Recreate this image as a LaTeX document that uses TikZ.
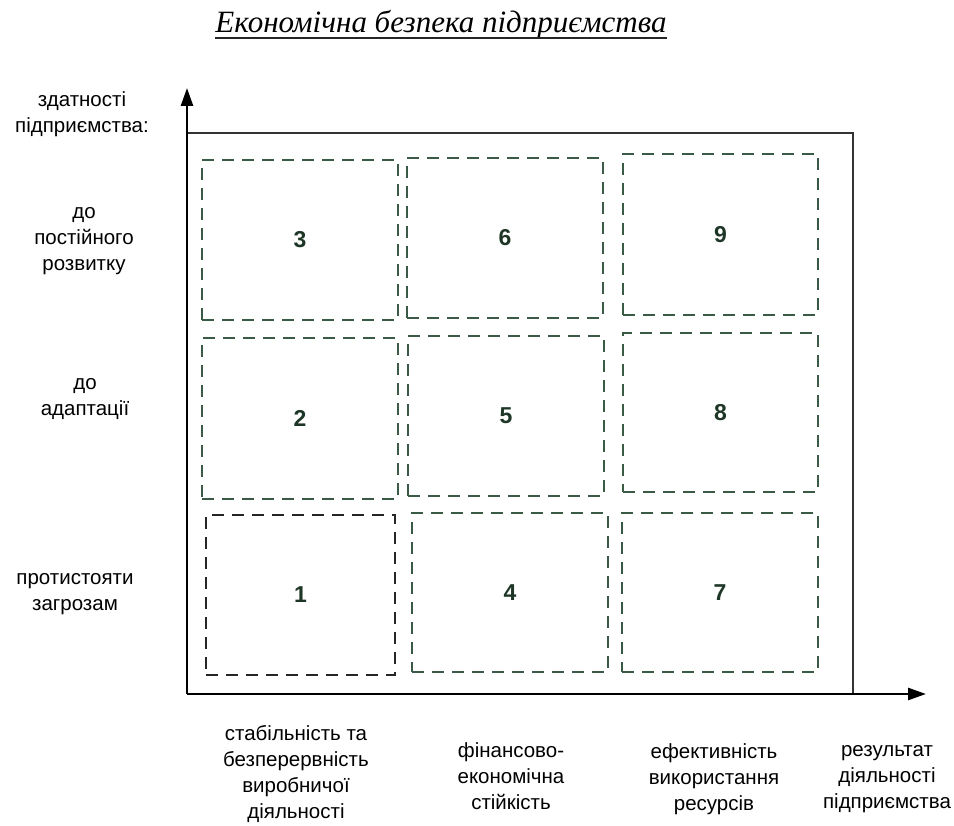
\documentclass[tikz,border=0pt]{standalone}
\usepackage{fontspec}
\setmainfont{Liberation Serif}
\newfontfamily\lsans{Liberation Sans}
\usetikzlibrary{arrows.meta}
\definecolor{dgreen}{HTML}{3A5A45}
\definecolor{numcol}{HTML}{1E3626}
\begin{document}
\begin{tikzpicture}[x=1pt,y=-1pt,
  cell/.style={draw=dgreen,line width=2.1pt,dash pattern=on 12pt off 8pt,inner sep=0pt,outer sep=0pt,
    font=\lsans\bfseries\fontsize{23}{25}\selectfont,text=numcol},
  axis/.style={line width=2.6pt,-{Triangle[length=18pt,width=12pt]}},
  frameline/.style={line width=1.8pt,draw=black!80},
  lbl/.style={align=center,inner sep=0pt,font=\lsans\fontsize{20.5}{26.2}\selectfont}]
\useasboundingbox (0,0) rectangle (954,826);
% title
\node[inner sep=0pt] (title) at (441,25) {\fontsize{31}{34}\selectfont\itshape Економічна безпека підприємства};
\draw[line width=1.5pt,draw=black!85] ([yshift=-5pt]title.base west) -- ([yshift=-5pt]title.base east);
% axes and frame
\coordinate (O) at (187,694);
\coordinate (Y) at (187,88);
\coordinate (X) at (926,694);
\coordinate (TL) at (187,133);
\coordinate (TR) at (853,133);
\coordinate (BR) at (853,694);
\draw[frameline] (TL) -- (TR) -- (BR);
\draw[axis] (O) -- (Y);
\draw[axis] (O) -- (X);
% cells
\node[cell,minimum width=196pt,minimum height=160pt] (b3) at (300,240) {3};
\node[cell,minimum width=196pt,minimum height=160pt] (b6) at (505,238) {6};
\node[cell,minimum width=195pt,minimum height=161pt] (b9) at (720.5,234.5) {9};
\node[cell,minimum width=196pt,minimum height=161pt] (b2) at (300,418.5) {2};
\node[cell,minimum width=196pt,minimum height=160pt] (b5) at (506,416) {5};
\node[cell,minimum width=195pt,minimum height=159pt] (b8) at (720.5,412.5) {8};
\node[cell,draw=black!85,minimum width=189pt,minimum height=160pt] (b1) at (300.5,595) {1};
\node[cell,minimum width=196pt,minimum height=159pt] (b4) at (510,592.5) {4};
\node[cell,minimum width=196pt,minimum height=159pt] (b7) at (720,592.5) {7};
% left labels
\node[lbl] (l0) at (82,114) {здатності\\підприємства:};
\node[lbl] (l3) at (84,241) {до\\постійного\\розвитку};
\node[lbl] (l2) at (85,399) {до\\адаптації};
\node[lbl] (l1) at (75,594) {протистояти\\загрозам};
% bottom labels
\node[lbl] (c1) at (296,774) {стабільність та\\безперервність\\виробничої\\діяльності};
\node[lbl] (c2) at (511,776) {фінансово-\\економічна\\стійкість};
\node[lbl] (c3) at (714,779) {ефективність\\використання\\ресурсів};
\node[lbl] (c4) at (887,779) {результат\\діяльності\\підприємства};
\end{tikzpicture}
\end{document}
